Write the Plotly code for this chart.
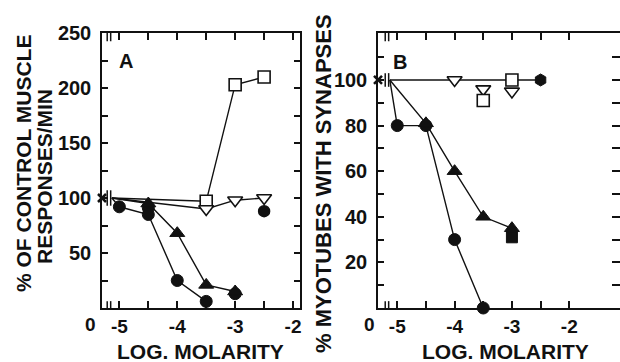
import plotly.graph_objects as go

# ---------------- data ----------------
CONTROL_X = -5.13
CONTROL_Y = 100

# Panel A: % of control muscle responses/min
A_sq_x = [-3.5, -3.0, -2.5]
A_sq_y = [97, 203, 210]
A_tridn_x = [-3.5, -3.0, -2.5]
A_tridn_y = [90, 98, 100]
A_tri_x = [-4.5, -4.0, -3.5, -3.0]
A_tri_y = [95, 68, 21, 15]
A_circ_x = [-5.0, -4.5, -4.0, -3.5]
A_circ_y = [92, 85, 25, 6]
A_xcirc_x = [-4.5, -3.0]
A_xcirc_y = [91, 13]
A_half_x = [-2.5]
A_half_y = [88]

# Panel B: % myotubes with synapses
B_line_x = [-4.0, -3.0, -2.5]
B_line_y = [100, 100, 100]
B_tridn_x = [-4.0, -3.5, -3.0]
B_tridn_y = [100, 96, 95]
B_sq_x = [-3.5, -3.0]
B_sq_y = [91, 100]
B_hex_x = [-2.5]
B_hex_y = [100]
B_circ_x = [-5.0, -4.5, -4.0, -3.5]
B_circ_y = [80, 80, 30, 0]
B_tri_x = [-4.5, -4.0, -3.5, -3.0]
B_tri_y = [81, 60, 40, 35]
B_fsq_x = [-3.0]
B_fsq_y = [31]

X_TICKS = [-5.0, -4.5, -4.0, -3.5, -3.0, -2.5, -2.0]
X_LABELS = ["-5", "", "-4", "", "-3", "", "-2"]
A_Y_TICKS = [25, 50, 75, 100, 125, 150, 175, 200, 225, 250]
A_Y_LABELS = ["", "50", "", "100", "", "150", "", "200", "", "250"]
B_Y_TICKS = [10, 20, 30, 40, 50, 60, 70, 80, 90, 100, 110]
B_Y_LABELS = ["", "20", "", "40", "", "60", "", "80", "", "100", ""]

A_XRANGE = [-5.3, -1.88]
B_XRANGE = [-5.336, -1.115]
A_YRANGE = [0, 250]
B_YRANGE = [0, 120.6]
BREAKS = [-5.21, -5.15]

W, H = 620, 362
FONT = "Liberation Sans"
BLACK = "#111"

fig = go.Figure()

def line(x, y, xa, ya):
    fig.add_trace(go.Scatter(x=[CONTROL_X] + x, y=[CONTROL_Y] + y, mode="lines",
                             line=dict(color=BLACK, width=1.4), xaxis=xa, yaxis=ya,
                             showlegend=False, hoverinfo="skip", cliponaxis=False))

def marks(x, y, xa, ya, symbol, size=11, lw=1.5, fill=BLACK):
    fig.add_trace(go.Scatter(x=x, y=y, mode="markers", xaxis=xa, yaxis=ya,
                             marker=dict(symbol=symbol, size=size, color=fill,
                                         line=dict(color=BLACK, width=lw)),
                             showlegend=False, cliponaxis=False))

# Panel A
line(A_sq_x, A_sq_y, "x", "y")
line(A_tridn_x, A_tridn_y, "x", "y")
line(A_tri_x, A_tri_y, "x", "y")
line(A_circ_x, A_circ_y, "x", "y")
marks(A_xcirc_x, A_xcirc_y, "x", "y", "circle", 12, 1, BLACK)
marks(A_circ_x, A_circ_y, "x", "y", "circle", 12, 1, BLACK)
marks(A_tri_x, A_tri_y, "x", "y", "triangle-up", 13, 1, BLACK)
marks(A_sq_x, A_sq_y, "x", "y", "square", 12, 1.6, "white")
marks(A_tridn_x, A_tridn_y, "x", "y", "triangle-down", 13, 1.6, "white")
marks(A_half_x, A_half_y, "x", "y", "circle", 11, 1.5, BLACK)
marks([A_XRANGE[0]], [CONTROL_Y], "x", "y", "x-thin", 8, 2.5, BLACK)

# Panel B
fig.add_trace(go.Scatter(x=[CONTROL_X] + B_line_x, y=[CONTROL_Y] + B_line_y, mode="lines",
                         line=dict(color=BLACK, width=1.4), xaxis="x2", yaxis="y2",
                         showlegend=False, hoverinfo="skip", cliponaxis=False))
line(B_circ_x, B_circ_y, "x2", "y2")
line(B_tri_x, B_tri_y, "x2", "y2")
marks(B_circ_x, B_circ_y, "x2", "y2", "circle", 12, 1, BLACK)
marks(B_tri_x, B_tri_y, "x2", "y2", "triangle-up", 13, 1, BLACK)
marks(B_fsq_x, B_fsq_y, "x2", "y2", "square", 11, 1, BLACK)
marks(B_tridn_x, B_tridn_y, "x2", "y2", "triangle-down", 13, 1.6, "white")
marks(B_sq_x, B_sq_y, "x2", "y2", "square", 12, 1.6, "white")
marks(B_hex_x, B_hex_y, "x2", "y2", "hexagon", 12, 1, BLACK)
marks([B_XRANGE[0]], [CONTROL_Y], "x2", "y2", "x-thin", 8, 2.5, BLACK)

tickfont = dict(family=FONT, size=19, color=BLACK, weight="bold")
ytickfont = dict(family=FONT, size=20, color=BLACK, weight="bold")
YDOM = [1 - 308 / H, 1 - 33 / H]

def xax(rng, dom, anchor):
    return dict(range=rng, domain=dom, anchor=anchor, tickvals=X_TICKS, ticktext=X_LABELS,
                ticks="inside", ticklen=7, tickwidth=1.5, tickcolor=BLACK,
                showline=True, linewidth=1.5, linecolor=BLACK, mirror="ticks",
                showgrid=False, zeroline=False, tickfont=tickfont, automargin=False,
                ticklabelstandoff=0, fixedrange=True)

def yax(rng, tv, tt, anchor, mirror="ticks"):
    return dict(range=rng, domain=YDOM, anchor=anchor,
                tickvals=tv, ticktext=tt, ticks="inside", ticklen=6, tickwidth=1.5,
                tickcolor=BLACK, showline=True, linewidth=1.5, linecolor=BLACK,
                mirror=mirror, showgrid=False, zeroline=False, tickfont=ytickfont,
                automargin=False, ticklabelstandoff=5, fixedrange=True)

fig.update_layout(
    width=W, height=H, margin=dict(l=0, r=0, t=0, b=0),
    paper_bgcolor="white", plot_bgcolor="white",
    xaxis=xax(A_XRANGE, [102 / W, 300 / W], "y"),
    yaxis=yax(A_YRANGE, A_Y_TICKS, A_Y_LABELS, "x"),
    xaxis2=xax(B_XRANGE, [378 / W, 1.0], "y2"),
    yaxis2=yax(B_YRANGE, B_Y_TICKS, B_Y_LABELS, "x2", mirror=False),
    # right-hand ticks of panel B (its frame line runs off the page)
    yaxis3=dict(range=B_YRANGE, domain=YDOM, anchor="x2", overlaying="y2", side="right",
                tickvals=B_Y_TICKS, showticklabels=False, ticks="inside", ticklen=8,
                tickwidth=1.5, tickcolor=BLACK, showline=False, showgrid=False,
                zeroline=False, automargin=False, fixedrange=True),
)
fig.add_trace(go.Scatter(x=[B_XRANGE[0]], y=[CONTROL_Y], xaxis="x2", yaxis="y3",
                         mode="markers", marker=dict(size=1, color="rgba(0,0,0,0)"),
                         showlegend=False, hoverinfo="skip"))

# axis break marks
shapes = []
for xa, ya, half in (("x", "y", 7), ("x2", "y2", 3)):
    for bx in BREAKS:
        shapes.append(dict(type="line", xref=xa, yref=ya + " domain", x0=bx, x1=bx,
                           y0=0.97, y1=1.0, line=dict(color=BLACK, width=1.5)))
        shapes.append(dict(type="line", xref=xa, yref=ya + " domain", x0=bx, x1=bx,
                           y0=0.0, y1=0.025, line=dict(color=BLACK, width=1.5)))
        shapes.append(dict(type="line", xref=xa, yref=ya, x0=bx, x1=bx,
                           y0=CONTROL_Y - half, y1=CONTROL_Y + half,
                           line=dict(color=BLACK, width=1.5)))
fig.update_layout(shapes=shapes)

def ann(text, px, py, size, angle=0):
    fig.add_annotation(text=text, x=px / W, y=1 - py / H, xref="paper", yref="paper",
                       showarrow=False, textangle=angle, xanchor="center", yanchor="middle",
                       font=dict(family=FONT, size=size, color=BLACK, weight="bold"))

ann("% OF CONTROL MUSCLE", 24, 164, 21, -90)
ann("RESPONSES/MIN", 44, 177, 21, -90)
ann("% MYOTUBES WITH SYNAPSES", 323, 184, 22, -90)
ann("LOG. MOLARITY", 200, 351, 21)
ann("LOG. MOLARITY", 505, 351, 21)
ann("A", 126, 61, 20)
ann("B", 400, 62, 20)
ann("0", 90, 324, 19)
ann("0", 369, 324, 19)

fig.write_html("out.html")
